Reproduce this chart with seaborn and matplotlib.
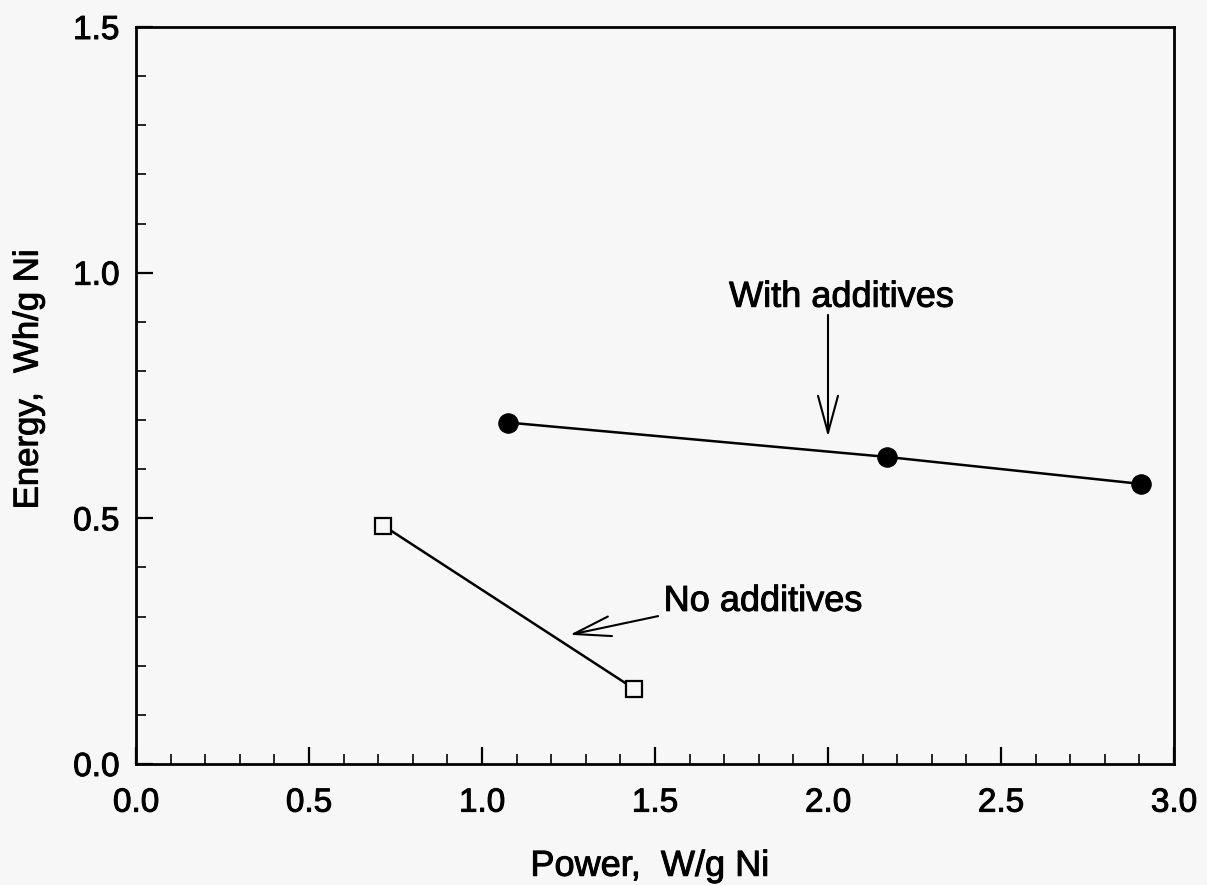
import numpy as np
import pandas as pd
import matplotlib
matplotlib.use('Agg')
import matplotlib.pyplot as plt
import matplotlib.patheffects as pe
import seaborn as sns

# values
power_with = [1.075, 2.17, 2.905]
energy_with = [0.695, 0.625, 0.57]
power_none = [0.715, 1.44]
energy_none = [0.485, 0.153]

x_ticks = [0.0, 0.5, 1.0, 1.5, 2.0, 2.5, 3.0]
y_ticks = [0.0, 0.5, 1.0, 1.5]

sns.set_style('ticks')
plt.rcParams['font.family'] = ['Liberation Sans', 'DejaVu Sans']
plt.rcParams['text.color'] = 'black'
plt.rcParams['axes.labelcolor'] = 'black'
bg = '#f7f7f7'
heavy = [pe.withStroke(linewidth=0.7, foreground='black')]

fig = plt.figure(figsize=(12.07, 8.85), dpi=100, facecolor=bg)
ax = fig.add_axes([136 / 1207, 1 - 764 / 885, (1174 - 136) / 1207, (764 - 27) / 885])
ax.set_facecolor(bg)

df_with = pd.DataFrame({'Power': power_with, 'Energy': energy_with})
df_none = pd.DataFrame({'Power': power_none, 'Energy': energy_none})

sns.lineplot(data=df_with, x='Power', y='Energy', ax=ax, color='black', lw=1.8,
             marker='o', ms=14, mfc='black', mec='black')
sns.lineplot(data=df_none, x='Power', y='Energy', ax=ax, color='black', lw=1.8,
             marker='s', ms=12, mfc=bg, mec='black', mew=1.6)

ax.set_xlim(0, 3.0)
ax.set_ylim(0, 1.5)
ax.set_xticks(x_ticks)
ax.set_yticks(y_ticks)
ax.set_xticklabels([f'{v:.1f}' for v in x_ticks])
ax.set_yticklabels([f'{v:.1f}' for v in y_ticks])
ax.xaxis.set_minor_locator(matplotlib.ticker.MultipleLocator(0.1))
ax.yaxis.set_minor_locator(matplotlib.ticker.MultipleLocator(0.1))
ax.tick_params(which='major', direction='in', length=12, width=1.6, labelsize=24,
               colors='black', labelcolor='black')
ax.tick_params(which='minor', direction='in', length=7, width=1.4)
ax.tick_params(axis='x', which='major', pad=17)
ax.tick_params(axis='y', which='major', pad=12)
for s in ax.spines.values():
    s.set_linewidth(2.0)
    s.set_color('black')

ax.set_xlabel('Power,  W/g Ni', fontsize=26)
ax.set_ylabel('Energy,  Wh/g Ni', fontsize=25)
ax.xaxis.set_label_coords(0.495, -0.115)
ax.yaxis.set_label_coords(-0.088, 0.522)

# annotations with open arrows
arrow = dict(arrowstyle='->,head_length=1.33,head_width=0.36', lw=1.5,
             color='black', mutation_scale=20, shrinkA=0, shrinkB=0)
ax.annotate('', xy=(2.0, 0.666), xytext=(2.0, 0.914), arrowprops=arrow)
ax.text(2.038, 0.95, 'With additives', fontsize=26, ha='center', va='center')
ax.annotate('', xy=(1.254, 0.263), xytext=(1.509, 0.301), arrowprops=arrow)
ax.text(1.525, 0.331, 'No additives', fontsize=26, ha='left', va='center')

for t in ax.texts + ax.get_xticklabels() + ax.get_yticklabels() + [ax.xaxis.label, ax.yaxis.label]:
    t.set_path_effects(heavy)

fig.savefig('out.png', dpi=100, facecolor=bg)
